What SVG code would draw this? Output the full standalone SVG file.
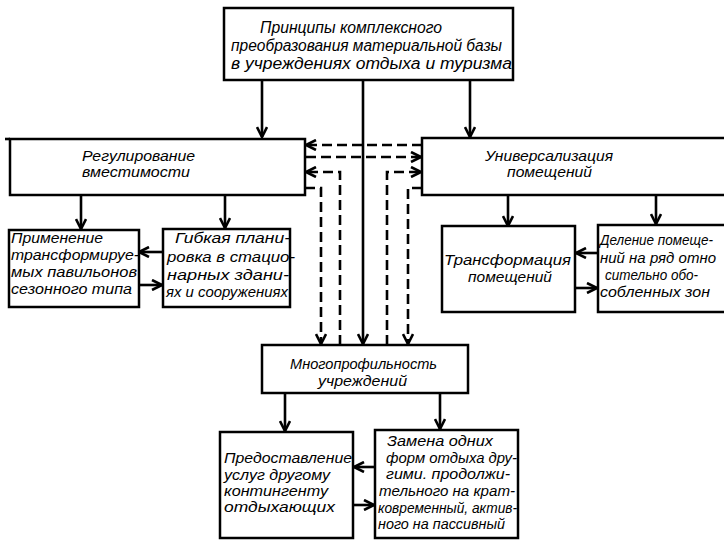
<svg xmlns="http://www.w3.org/2000/svg" width="724" height="541" viewBox="0 0 724 541">
<style>
.box{fill:#fff;stroke:#000;stroke-width:2.5}
.ln{fill:none;stroke:#000;stroke-width:2.6}
.ds{fill:none;stroke:#000;stroke-width:2.6;stroke-dasharray:10 5}
text{font-family:"Liberation Sans","DejaVu Sans",sans-serif;font-style:italic;font-size:15px;fill:#000}
.t16{font-size:16px}
.t14{font-size:14px}
</style>
<defs>
<marker id="ah" viewBox="0 0 12 12" refX="11" refY="6" markerWidth="12" markerHeight="12" markerUnits="userSpaceOnUse" orient="auto">
<path d="M1,1 L11,6 L1,11" fill="none" stroke="#000" stroke-width="2.6"/>
</marker>
</defs>
<rect width="724" height="541" fill="#fff"/>
<g id="connectors">
<path class="ln" d="M262,80 V137" marker-end="url(#ah)"/>
<path class="ln" d="M363,80 V344" marker-end="url(#ah)"/>
<path class="ln" d="M470,80 V137" marker-end="url(#ah)"/>
<path class="ln" d="M81,195 V229" marker-end="url(#ah)"/>
<path class="ln" d="M225,195 V228" marker-end="url(#ah)"/>
<path class="ln" d="M163,252 H139" marker-end="url(#ah)"/>
<path class="ln" d="M138,285 H162" marker-end="url(#ah)"/>
<path class="ln" d="M508,195 V226" marker-end="url(#ah)"/>
<path class="ln" d="M656,195 V224" marker-end="url(#ah)"/>
<path class="ln" d="M598,253 H576" marker-end="url(#ah)"/>
<path class="ln" d="M575,288 H597" marker-end="url(#ah)"/>
<path class="ln" d="M285,393 V431" marker-end="url(#ah)"/>
<path class="ln" d="M440,393 V429" marker-end="url(#ah)"/>
<path class="ln" d="M375,467 H354" marker-end="url(#ah)"/>
<path class="ln" d="M353,505 H374" marker-end="url(#ah)"/>
<path class="ds" d="M422,145 H306" marker-end="url(#ah)"/>
<path class="ds" d="M306,157 H421" marker-end="url(#ah)"/>
<path class="ds" d="M340,345 V172 H306" marker-end="url(#ah)"/>
<path class="ds" d="M387,345 V172 H421" marker-end="url(#ah)"/>
<path class="ds" d="M305,188 H321 V344" marker-end="url(#ah)"/>
<path class="ds" d="M422,188 H408 V344" marker-end="url(#ah)"/>
</g>
<g id="top">
<rect class="box" x="224" y="8" width="289" height="72"/>
<text class="t16" x="260" y="33" textLength="182" lengthAdjust="spacingAndGlyphs">Принципы комплексного</text>
<text class="t16" x="231" y="51" textLength="271" lengthAdjust="spacingAndGlyphs">преобразования материальной базы</text>
<text class="t16" x="231" y="69" textLength="281" lengthAdjust="spacingAndGlyphs">в  учреждениях  отдыха и туризма</text>
</g>
<g id="regulation">
<path class="ln" d="M5,139 H10"/>
<rect class="box" x="10" y="139" width="295" height="56"/>
<text class="t14" x="82" y="161" textLength="113" lengthAdjust="spacingAndGlyphs">Регулирование</text>
<text class="t14" x="82" y="177" textLength="108" lengthAdjust="spacingAndGlyphs">вместимости</text>
</g>
<g id="universal">
<path class="box" d="M724,138 H422 V195 H724"/>
<text class="t14" x="485" y="161" textLength="128" lengthAdjust="spacingAndGlyphs">Универсализация</text>
<text class="t14" x="507" y="177" textLength="85" lengthAdjust="spacingAndGlyphs">помещений</text>
</g>
<g id="pavilions">
<rect class="box" x="9" y="230" width="130" height="77"/>
<text x="11" y="243" textLength="92" lengthAdjust="spacingAndGlyphs">Применение</text>
<text x="11" y="260" textLength="128" lengthAdjust="spacingAndGlyphs">трансформируе-</text>
<text x="11" y="277" textLength="126" lengthAdjust="spacingAndGlyphs">мых павильонов</text>
<text x="11" y="294" textLength="121" lengthAdjust="spacingAndGlyphs">сезонного типа</text>
</g>
<g id="flexible">
<rect class="box" x="163" y="229" width="127" height="78"/>
<text x="175" y="243" textLength="115" lengthAdjust="spacingAndGlyphs">Гибкая плани-</text>
<text x="167" y="262" textLength="128" lengthAdjust="spacingAndGlyphs">ровка в стацио-</text>
<text x="167" y="280" textLength="122" lengthAdjust="spacingAndGlyphs">нарных  здани-</text>
<text x="166" y="297" textLength="122" lengthAdjust="spacingAndGlyphs">ях и сооружениях</text>
</g>
<g id="transform">
<rect class="box" x="442" y="226" width="133" height="86"/>
<text x="444" y="265" textLength="127" lengthAdjust="spacingAndGlyphs">Трансформация</text>
<text x="468" y="282" textLength="84" lengthAdjust="spacingAndGlyphs">помещений</text>
</g>
<g id="division">
<path class="box" d="M724,225 H598 V312 H724"/>
<text class="t14" x="600" y="245" textLength="113" lengthAdjust="spacingAndGlyphs">Деление помеще-</text>
<text class="t14" x="600" y="263" textLength="116" lengthAdjust="spacingAndGlyphs">ний на ряд отно</text>
<text x="605" y="280" textLength="93" lengthAdjust="spacingAndGlyphs">сительно обо-</text>
<text x="600" y="297" textLength="110" lengthAdjust="spacingAndGlyphs">собленных зон</text>
</g>
<g id="multi">
<rect class="box" x="262" y="345" width="206" height="48"/>
<text class="t14" x="290" y="369" textLength="147" lengthAdjust="spacingAndGlyphs">Многопрофильность</text>
<text class="t14" x="318" y="386" textLength="89" lengthAdjust="spacingAndGlyphs">учреждений</text>
</g>
<g id="services">
<rect class="box" x="220" y="432" width="133" height="106"/>
<text x="224" y="463" textLength="128" lengthAdjust="spacingAndGlyphs">Предоставление</text>
<text x="224" y="480" textLength="106" lengthAdjust="spacingAndGlyphs">услуг другому</text>
<text x="224" y="496" textLength="104" lengthAdjust="spacingAndGlyphs">контингенту</text>
<text x="224" y="512" textLength="111" lengthAdjust="spacingAndGlyphs">отдыхающих</text>
</g>
<g id="replace">
<rect class="box" x="375" y="430" width="143" height="108"/>
<text x="387" y="446" textLength="106" lengthAdjust="spacingAndGlyphs">Замена одних</text>
<text x="386" y="463" textLength="131" lengthAdjust="spacingAndGlyphs">форм отдыха дру-</text>
<text x="386" y="479" textLength="124" lengthAdjust="spacingAndGlyphs">гими. продолжи-</text>
<text x="379" y="496" textLength="136" lengthAdjust="spacingAndGlyphs">тельного на крат-</text>
<text x="378" y="513" textLength="139" lengthAdjust="spacingAndGlyphs">ковременный, актив-</text>
<text x="378" y="529" textLength="127" lengthAdjust="spacingAndGlyphs">ного на пассивный</text>
</g>
</svg>
